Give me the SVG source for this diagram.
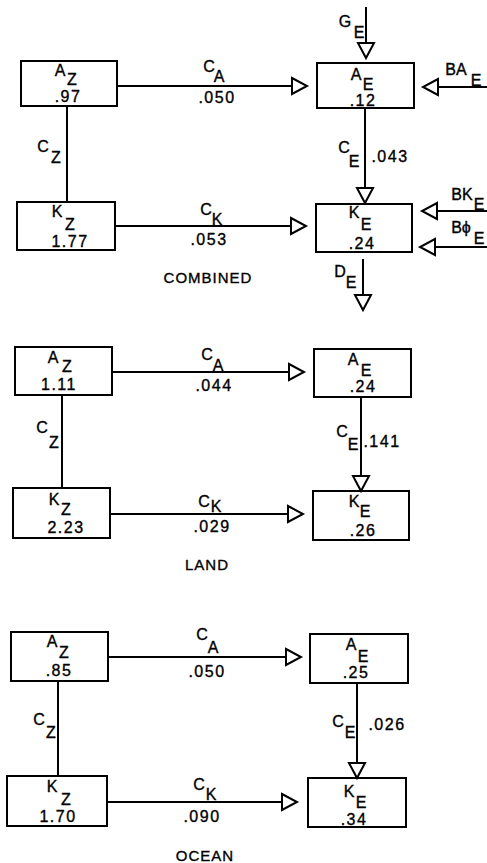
<svg xmlns="http://www.w3.org/2000/svg" width="487" height="863" viewBox="0 0 487 863">
<style>
.box{fill:none;stroke:#000;stroke-width:2}
.ln{fill:none;stroke:#000;stroke-width:2;marker-end:url(#tri)}
.plain{fill:none;stroke:#000;stroke-width:2}
text{font-family:"Liberation Sans","DejaVu Sans",sans-serif;fill:#000;stroke:#000;stroke-width:0.35;text-anchor:middle}
.l{font-size:16px}
.n{font-size:16px;letter-spacing:1.5px}
.cap{font-size:15px;letter-spacing:1px}
</style>
<defs>
<marker id="tri" markerUnits="userSpaceOnUse" markerWidth="20" markerHeight="20" refX="15" refY="8" orient="auto" overflow="visible">
<path d="M0,0 L15,8 L0,16 Z" fill="#fff" stroke="#000" stroke-width="2" stroke-linejoin="miter"/>
</marker>
</defs>
<rect width="487" height="863" fill="#fff"/>

<g id="connectors">
<!-- combined -->
<path class="ln" d="M117,86 H307"/>
<path class="ln" d="M366,7 V58"/>
<path class="ln" d="M487,87 H423"/>
<path class="ln" d="M365,108 V203"/>
<path class="ln" d="M115,226 H306"/>
<path class="ln" d="M487,211 H422"/>
<path class="ln" d="M487,247 H420"/>
<path class="ln" d="M363,259 V310"/>
<path class="plain" d="M67,106 V202"/>
<text class="l" x="209" y="72">C</text><text class="l" x="219" y="82">A</text><text class="n" x="217" y="103">.050</text>
<text class="l" x="345" y="27">G</text><text class="l" x="359" y="38">E</text>
<text class="l" x="456" y="75">BA</text><text class="l" x="476" y="86">E</text>
<text class="l" x="344" y="153">C</text><text class="l" x="354" y="167">E</text><text class="n" x="390" y="162">.043</text>
<text class="l" x="43" y="152">C</text><text class="l" x="56" y="163">Z</text>
<text class="l" x="206" y="215">C</text><text class="l" x="217" y="225">K</text><text class="n" x="209" y="245">.053</text>
<text class="l" x="462" y="200">BK</text><text class="l" x="479" y="210">E</text>
<text class="l" x="461" y="233">Bϕ</text><text class="l" x="479" y="244">E</text>
<text class="l" x="340" y="277">D</text><text class="l" x="351" y="288">E</text>
<text class="cap" x="208" y="283">COMBINED</text>
<!-- land -->
<path class="ln" d="M112,372 H304"/>
<path class="plain" d="M62,395 V488"/>
<path class="ln" d="M361,397 V491"/>
<path class="ln" d="M110,514 H303"/>
<text class="l" x="207" y="360">C</text><text class="l" x="218" y="371">A</text><text class="n" x="214" y="391">.044</text>
<text class="l" x="42" y="433">C</text><text class="l" x="54" y="448">Z</text>
<text class="l" x="342" y="437">C</text><text class="l" x="353" y="450">E</text><text class="n" x="382" y="447">.141</text>
<text class="l" x="204" y="507">C</text><text class="l" x="216" y="512">K</text><text class="n" x="212" y="532">.029</text>
<text class="cap" x="207" y="570">LAND</text>
<!-- ocean -->
<path class="ln" d="M108,657 H301"/>
<path class="plain" d="M58,681 V776"/>
<path class="ln" d="M357,683 V778"/>
<path class="ln" d="M107,802 H297"/>
<text class="l" x="202" y="640">C</text><text class="l" x="213" y="653">A</text><text class="n" x="207" y="677">.050</text>
<text class="l" x="39" y="725">C</text><text class="l" x="51" y="738">Z</text>
<text class="l" x="338" y="727">C</text><text class="l" x="350" y="738">E</text><text class="n" x="387" y="730">.026</text>
<text class="l" x="199" y="790">C</text><text class="l" x="211" y="800">K</text><text class="n" x="202" y="822">.090</text>
<text class="cap" x="205" y="861">OCEAN</text>
</g>

<g id="combined-AZ"><rect class="box" x="21" y="61" width="96" height="45"/><text class="l" x="60" y="76">A</text><text class="l" x="72" y="85">Z</text><text class="n" x="68" y="102">.97</text></g>
<g id="combined-AE"><rect class="box" x="317" y="63" width="97" height="45"/><text class="l" x="356" y="80">A</text><text class="l" x="368" y="90">E</text><text class="n" x="363" y="106">.12</text></g>
<g id="combined-KZ"><rect class="box" x="17" y="202" width="98" height="48"/><text class="l" x="57" y="217">K</text><text class="l" x="70" y="230">Z</text><text class="n" x="70" y="247">1.77</text></g>
<g id="combined-KE"><rect class="box" x="316" y="204" width="96" height="48"/><text class="l" x="354" y="218">K</text><text class="l" x="366" y="230">E</text><text class="n" x="362" y="249">.24</text></g>

<g id="land-AZ"><rect class="box" x="15" y="347" width="97" height="48"/><text class="l" x="53" y="363">A</text><text class="l" x="67" y="372">Z</text><text class="n" x="59" y="390">1.11</text></g>
<g id="land-AE"><rect class="box" x="314" y="349" width="97" height="48"/><text class="l" x="353" y="365">A</text><text class="l" x="366" y="376">E</text><text class="n" x="363" y="392">.24</text></g>
<g id="land-KZ"><rect class="box" x="13" y="488" width="97" height="50"/><text class="l" x="54" y="505">K</text><text class="l" x="66" y="515">Z</text><text class="n" x="66" y="533">2.23</text></g>
<g id="land-KE"><rect class="box" x="313" y="491" width="96" height="49"/><text class="l" x="354" y="507">K</text><text class="l" x="365" y="517">E</text><text class="n" x="363" y="536">.26</text></g>

<g id="ocean-AZ"><rect class="box" x="11" y="632" width="97" height="49"/><text class="l" x="52" y="647">A</text><text class="l" x="64" y="658">Z</text><text class="n" x="59" y="676">.85</text></g>
<g id="ocean-AE"><rect class="box" x="310" y="634" width="98" height="49"/><text class="l" x="351" y="650">A</text><text class="l" x="363" y="662">E</text><text class="n" x="356" y="678">.25</text></g>
<g id="ocean-KZ"><rect class="box" x="7" y="776" width="100" height="50"/><text class="l" x="52" y="792">K</text><text class="l" x="66" y="805">Z</text><text class="n" x="58" y="822">1.70</text></g>
<g id="ocean-KE"><rect class="box" x="308" y="778" width="98" height="49"/><text class="l" x="349" y="797">K</text><text class="l" x="361" y="808">E</text><text class="n" x="354" y="825">.34</text></g>
</svg>
